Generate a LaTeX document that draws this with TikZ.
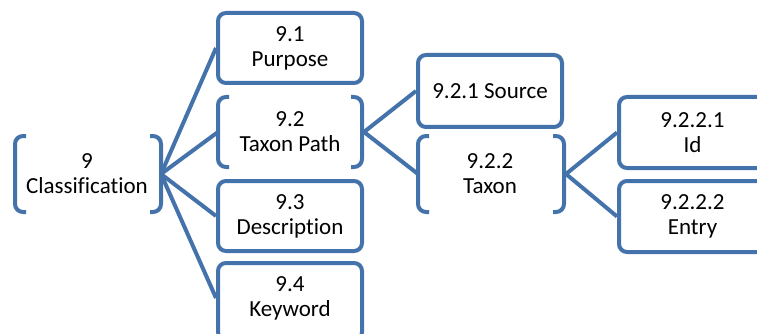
\documentclass[tikz,border=0pt]{standalone}
\usepackage{fontspec}
\setmainfont[Ligatures=NoCommon]{Carlito}
\definecolor{sablue}{RGB}{68,114,170}
\begin{document}
\begin{tikzpicture}[x=1pt,y=-1pt,
  line width=4pt,
  txt/.style={align=center,font=\fontsize{23}{25}\selectfont,text=black,inner sep=0pt},
  boxn/.style={txt,draw=sablue,rounded corners=8pt,line width=4pt,fill=white,
               minimum width=144pt,minimum height=70pt},
  brk/.style={draw=sablue,line width=4pt,rounded corners=8pt},
  conn/.style={draw=sablue,line width=4pt}]
\useasboundingbox (0,0) rectangle (757,334);
\begin{scope}
\clip (0,0) rectangle (757,334);
% ---------- level 1 : Classification (bracket)
\node[txt] (c9) at (87,174) {9\\Classification};
\draw[brk] (26,136) -- (15,136) -- (15,212) -- (26,212);
\draw[brk] (150,136) -- (161,136) -- (161,212) -- (150,212);
\coordinate (c9tip) at (161,174);
% ---------- level 2
\node[boxn] (p91) at (290,48) {9.1\\Purpose};
\node[txt] (p92) at (290,132) {9.2\\Taxon Path};
\draw[brk] (229,97) -- (218,97) -- (218,167) -- (229,167);
\draw[brk] (351,97) -- (362,97) -- (362,167) -- (351,167);
\coordinate (p92l) at (218,132);
\coordinate (p92tip) at (364,132);
\node[boxn] (p93) at (290,216) {9.3\\Description};
\node[boxn,minimum height=77pt,label={[txt,yshift=3.5pt]center:{9.4\\Keyword}}] (p94) at (290,301.5) {};
% ---------- level 3
\node[boxn,minimum height=72pt] (s921) at (490,91) {9.2.1 Source};
\node[txt] (t922) at (490,174) {9.2.2\\Taxon};
\draw[brk] (429,136) -- (418,136) -- (418,212) -- (429,212);
\draw[brk] (553,136) -- (564,136) -- (564,212) -- (553,212);
\coordinate (t922l) at (418,174);
\coordinate (t922tip) at (566,174);
% ---------- level 4
\node[boxn,minimum width=147pt,minimum height=71pt] (id) at (692.5,132.5) {9.2.2.1\\Id};
\node[boxn,minimum width=147pt,minimum height=71pt] (en) at (692.5,216.5) {9.2.2.2\\Entry};
% ---------- connectors
\draw[conn] (c9tip) -- (p91.west);
\draw[conn] (c9tip) -- (p92l);
\draw[conn] (c9tip) -- (p93.west);
\draw[conn] (c9tip) -- ([yshift=3.5pt]p94.west);
\draw[conn] (p92tip) -- (s921.west);
\draw[conn] (p92tip) -- (t922l);
\draw[conn] (t922tip) -- (id.west);
\draw[conn] (t922tip) -- (en.west);
\end{scope}
\end{tikzpicture}
\end{document}
